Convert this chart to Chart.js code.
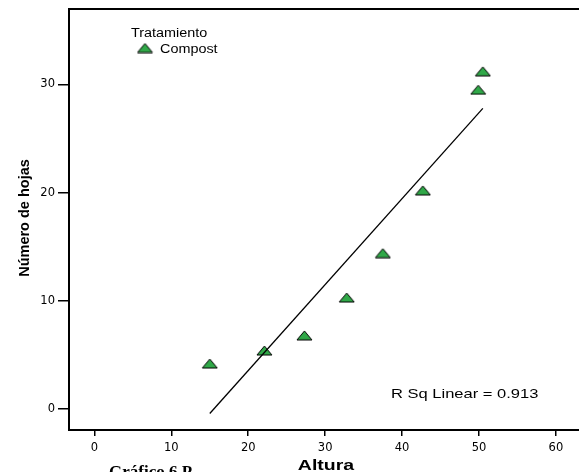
<!DOCTYPE html>
<html lang="es">
<head>
<meta charset="UTF-8" />
<title>Número de hojas según altura</title>
<script src="https://cdn.jsdelivr.net/npm/chart.js"></script>
<style>
  body { margin: 0; background: #fff; }
  #wrap { width: 579px; height: 472px; }
</style>
</head>
<body>
<div id="wrap"><canvas id="scatter" width="579" height="472"></canvas></div>
<script>
// datos: altura de la planta y número de hojas (tratamiento Compost)
const altura = [15.0, 22.1, 27.3, 32.8, 37.5, 42.7, 49.9, 50.5];
const hojas = [4.2, 5.4, 6.8, 10.3, 14.4, 20.2, 29.5, 31.2];
const xTicks = [0, 10, 20, 30, 40, 50, 60];
const yTicks = [0, 10, 20, 30];
const legendTitle = "Tratamiento";
const seriesName = "Compost";
const rSqLabel = "R Sq Linear = 0.913";
const caption = "Gráfico 6 P";

// recta de mínimos cuadrados entre el menor y el mayor valor de x
function fitLine(xs, ys) {
  const n = xs.length;
  const mx = xs.reduce((a, b) => a + b, 0) / n;
  const my = ys.reduce((a, b) => a + b, 0) / n;
  let sxy = 0, sxx = 0;
  xs.forEach((x, i) => {
    sxy += (x - mx) * (ys[i] - my);
    sxx += (x - mx) * (x - mx);
  });
  const b = sxy / sxx, a = my - b * mx;
  const x0 = Math.min(...xs), x1 = Math.max(...xs);
  return [{ x: x0, y: a + b * x0 }, { x: x1, y: a + b * x1 }];
}

// triángulo achatado como en SPSS
function triangleMarker(w, h) {
  const c = document.createElement("canvas");
  c.width = w + 2; c.height = h + 2;
  const g = c.getContext("2d");
  g.beginPath();
  g.moveTo(1, h + 1);
  g.lineTo(w + 1, h + 1);
  g.lineTo(w / 2 + 1, 1);
  g.closePath();
  g.fillStyle = "#30a848";
  g.fill();
  g.strokeStyle = "#000";
  g.lineWidth = 1;
  g.stroke();
  return c;
}
const marker = triangleMarker(15, 9);

function wideText(ctx, text, x, y, font, sx, align) {
  ctx.save();
  ctx.font = font;
  ctx.textAlign = align || "left";
  ctx.textBaseline = "alphabetic";
  ctx.translate(x, y);
  ctx.scale(sx, 1);
  ctx.fillText(text, 0, 0);
  ctx.restore();
}

const annotations = {
  id: "annotations",
  afterDraw(chart) {
    const { ctx, chartArea: a } = chart;
    ctx.save();
    // borde superior del marco
    ctx.strokeStyle = "#000";
    ctx.lineWidth = 2;
    ctx.beginPath();
    ctx.moveTo(a.left, a.top);
    ctx.lineTo(a.right, a.top);
    ctx.stroke();

    ctx.fillStyle = "#000";
    wideText(ctx, legendTitle, 131, 37, '12px "Liberation Sans"', 1.2);
    ctx.drawImage(marker, 145 - marker.width / 2, 48 - marker.height / 2);
    wideText(ctx, seriesName, 160, 53, '12px "Liberation Sans"', 1.2);
    wideText(ctx, rSqLabel, 391, 398, '13px "Liberation Sans"', 1.27);

    // títulos de los ejes
    wideText(ctx, "Altura", 326, 470, 'bold 15px "Liberation Sans"', 1.3, "center");
    ctx.save();
    ctx.translate(29, 218);
    ctx.rotate(-Math.PI / 2);
    ctx.font = 'bold 14.5px "Liberation Sans"';
    ctx.textAlign = "center";
    ctx.fillText("Número de hojas", 0, 0);
    ctx.restore();

    // pie de figura del documento, cortado abajo
    ctx.font = 'bold 17px "Liberation Serif"';
    ctx.textAlign = "left";
    ctx.fillText(caption, 109, 477);
    ctx.restore();
  }
};

const tickFont = { family: "DejaVu Sans", size: 11.5 };

new Chart(document.getElementById("scatter"), {
  type: "scatter",
  data: {
    datasets: [
      {
        label: seriesName,
        data: altura.map((x, i) => ({ x, y: hojas[i] })),
        pointStyle: marker,
        pointRadius: 7,
        pointHoverRadius: 7,
        order: 1
      },
      {
        type: "line",
        label: "Lineal",
        data: fitLine(altura, hojas),
        borderColor: "#000",
        borderWidth: 1.3,
        pointRadius: 0,
        fill: false,
        order: 0
      }
    ]
  },
  options: {
    responsive: false,
    animation: false,
    layout: { autoPadding: false, padding: { top: 9, right: 0, left: 0, bottom: 0 } },
    plugins: { legend: { display: false }, tooltip: { enabled: false } },
    scales: {
      x: {
        type: "linear",
        min: -3.3,
        max: 63,
        afterBuildTicks: s => { s.ticks = xTicks.map(v => ({ value: v })); },
        afterFit: s => { s.height = 42; s.paddingLeft = 0; s.paddingRight = 0; },
        border: { display: true, color: "#000", width: 2 },
        grid: { drawOnChartArea: false, drawTicks: true, tickLength: 6, color: "#000", lineWidth: 1.5 },
        ticks: { color: "#000", font: tickFont, padding: 5, maxRotation: 0, autoSkip: false }
      },
      y: {
        type: "linear",
        min: -1.94,
        max: 36.96,
        afterBuildTicks: s => { s.ticks = yTicks.map(v => ({ value: v })); },
        afterFit: s => { s.width = 69; s.paddingTop = 0; s.paddingBottom = 0; },
        border: { display: true, color: "#000", width: 2 },
        grid: { drawOnChartArea: false, drawTicks: true, tickLength: 11, color: "#000", lineWidth: 1.5 },
        ticks: { color: "#000", font: tickFont, padding: 3, autoSkip: false }
      }
    }
  },
  plugins: [annotations]
});
</script>
</body>
</html>
